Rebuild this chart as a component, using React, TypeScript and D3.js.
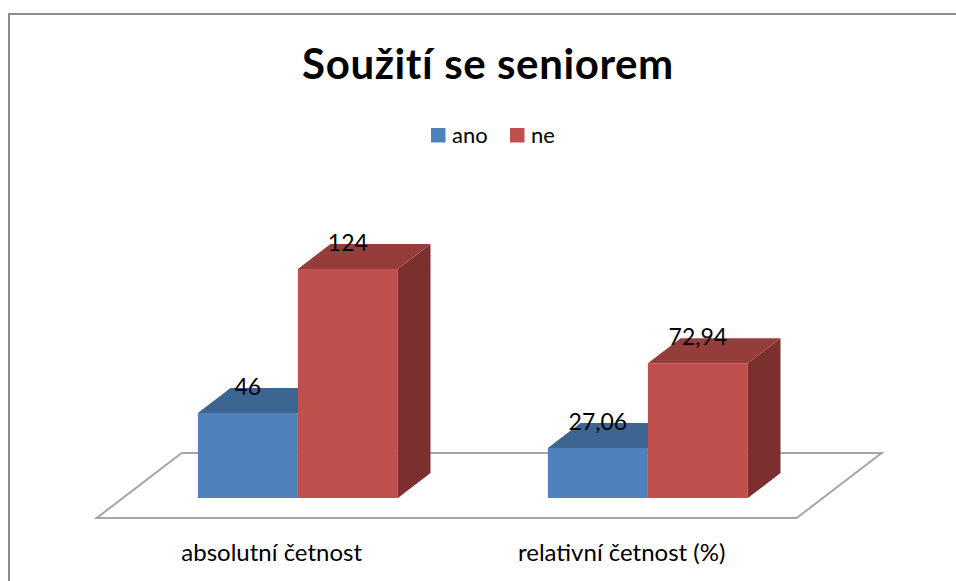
import React from "react";
import * as d3 from "d3";

const categories = ["absolutní četnost", "relativní četnost (%)"];
const seriesNames = ["ano", "ne"];
const anoValues = [46, 27.06];
const neValues = [124, 72.94];
const valueLabels = [
  ["46", "124"],
  ["27,06", "72,94"],
];

const W = 956;
const H = 581;

// floor / projection
const ORIGIN_X = 96.7;
const ORIGIN_Y = 518;
const FLOOR_W = 700;
const DEPTH_DX = 85;
const DEPTH_DY = 65;
const BAR_Z0 = 0.308;
const BAR_Z1 = 0.692;

const front = { ano: "#4F81BD", ne: "#C0504D" };
const top = { ano: "#3D6592", ne: "#953D3A" };
const side = { ano: "#2F4F73", ne: "#7B302F" };

const FONT = "Lato, Carlito, Calibri, sans-serif";

const proj = (x: number, y: number, z: number): [number, number] => [
  ORIGIN_X + x + z * DEPTH_DX,
  ORIGIN_Y - y - z * DEPTH_DY,
];

const poly = (pts: [number, number][]) =>
  "M" + pts.map((p) => p.join(",")).join("L") + "Z";

export default function App() {
  const x0 = d3.scaleBand<string>().domain(categories).range([0, FLOOR_W]);
  const x1 = d3
    .scaleBand<string>()
    .domain(seriesNames)
    .range([0, x0.bandwidth()])
    .paddingInner(0)
    .paddingOuter(0.75);
  const y = d3.scaleLinear().domain([0, 140]).range([0, 258.6]);

  const color = d3.scaleOrdinal<string, string>().domain(seriesNames).range([front.ano, front.ne]);

  const bars = categories.flatMap((c, ci) =>
    seriesNames.map((s, si) => ({
      cat: c,
      ci,
      s,
      value: si === 0 ? anoValues[ci] : neValues[ci],
      label: valueLabels[ci][si],
    }))
  );

  const floor = poly([
    proj(0, 0, 0),
    proj(FLOOR_W, 0, 0),
    proj(FLOOR_W, 0, 1),
    proj(0, 0, 1),
  ]);

  return (
    <div style={{ position: "absolute", left: 0, top: 0 }}>
      <svg width={W} height={H} style={{ display: "block", background: "#fff" }}>
        <rect x={9} y={14} width={1200} height={1200} fill="#fff" stroke="#8c8c8c" strokeWidth={2} />
        <text x={488} y={79} textAnchor="middle" fontFamily={FONT} fontWeight="bold" fontSize={42} letterSpacing={0.6} fill="#000">
          Soužití se seniorem
        </text>
        {/* legend */}
        {seriesNames.map((s, i) => {
          const lx = i === 0 ? 431 : 510;
          return (
            <g key={s}>
              <rect x={lx} y={128} width={14.5} height={14.5} fill={color(s)} />
              <text x={lx + 21} y={143} fontFamily={FONT} fontSize={22} fill="#000">
                {s}
              </text>
            </g>
          );
        })}
        <path d={floor} fill="#fff" stroke="#a6a6a6" strokeWidth={2} />
        {bars.map((b) => {
          const xa = (x0(b.cat) ?? 0) + (x1(b.s) ?? 0);
          const xb = xa + x1.bandwidth();
          const h = y(b.value);
          const key = b.s as "ano" | "ne";
          const f = poly([proj(xa, 0, BAR_Z0), proj(xb, 0, BAR_Z0), proj(xb, h, BAR_Z0), proj(xa, h, BAR_Z0)]);
          const t = poly([proj(xa, h, BAR_Z0), proj(xb, h, BAR_Z0), proj(xb, h, BAR_Z1), proj(xa, h, BAR_Z1)]);
          const sd = poly([proj(xb, 0, BAR_Z0), proj(xb, 0, BAR_Z1), proj(xb, h, BAR_Z1), proj(xb, h, BAR_Z0)]);
          const [cx, cy] = proj((xa + xb) / 2, h, BAR_Z0);
          return (
            <g key={b.cat + b.s}>
              <path d={sd} fill={side[key]} />
              <path d={t} fill={top[key]} />
              <path d={f} fill={front[key]} />
              <text x={cx} y={cy - 18} textAnchor="middle" fontFamily={FONT} fontSize={23} fill="#000">
                {b.label}
              </text>
            </g>
          );
        })}
        {categories.map((c) => {
          const [cx] = proj((x0(c) ?? 0) + x0.bandwidth() / 2, 0, 0);
          return (
            <text key={c} x={cx} y={561} textAnchor="middle" fontFamily={FONT} fontSize={24} fill="#000">
              {c}
            </text>
          );
        })}
      </svg>
    </div>
  );
}
